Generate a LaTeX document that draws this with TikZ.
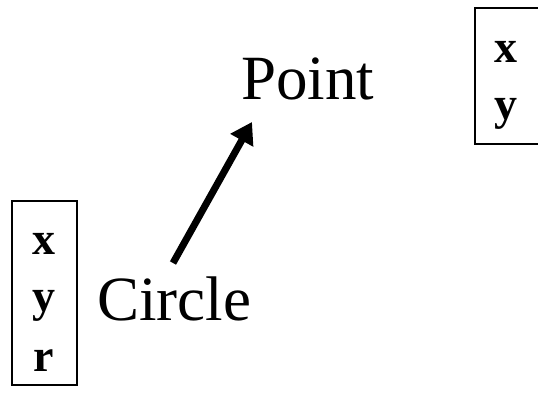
\documentclass[tikz,border=0pt]{standalone}
\usepackage{fontspec}
\setmainfont{Liberation Serif}
\usetikzlibrary{arrows.meta}
\begin{document}
\begin{tikzpicture}[x=1pt,y=-1pt,
  bigtxt/.style={inner sep=0pt,anchor=base west,font=\fontsize{63}{70}\selectfont},
  fld/.style={inner sep=0pt,anchor=base,font=\fontsize{46}{50}\selectfont\bfseries},
  boxline/.style={line width=1.5pt}]
\useasboundingbox (0,0) rectangle (538,395);
% left box
\draw[boxline] (12,201) rectangle (77,385);
\node[fld] (lx) at (44,255) {x};
\node[fld] (ly) at (44,312) {y};
\node[fld] (lr) at (44,371) {r};
% right box
\draw[boxline] (475,8) rectangle (545,144);
\node[fld] (rx) at (506,63) {x};
\node[fld] (ry) at (506,120) {y};
% labels
\node[bigtxt] (point) at (241,100) {Point};
\node[bigtxt] (circle) at (97,320) {Circle};
\coordinate (tail) at (173,263);
\coordinate (head) at (252,122);
\draw[line width=7pt,-{Triangle[length=21pt,width=25pt]}] (tail) -- (head);
\end{tikzpicture}
\end{document}
